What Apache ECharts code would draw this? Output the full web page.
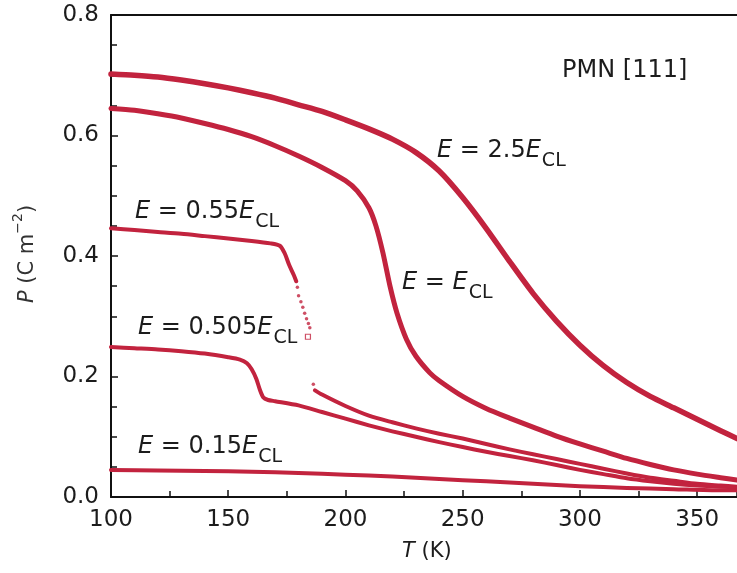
<!DOCTYPE html>
<html>
<head>
<meta charset="utf-8">
<script src="https://cdn.jsdelivr.net/npm/echarts@6/dist/echarts.min.js"></script>
<style>
  html, body { margin: 0; padding: 0; background: #fff; }
  #chart { width: 737px; height: 573px; }
</style>
</head>
<body>
<div id="chart"></div>
<script>
// Polarization P (C m^-2) of PMN [111] versus temperature T (K) for several field strengths.

// E = 2.5 E_CL
const tHigh = [100, 110, 120, 130, 140, 150, 160, 170, 180, 190, 200, 210, 220, 230, 240, 250, 260, 270, 280, 290, 300, 310, 320, 330, 340, 350, 360, 367];
const pHigh = [0.702, 0.700, 0.697, 0.692, 0.686, 0.679, 0.671, 0.662, 0.651, 0.640, 0.626, 0.611, 0.594, 0.572, 0.541, 0.497, 0.446, 0.391, 0.338, 0.292, 0.252, 0.218, 0.190, 0.167, 0.148, 0.129, 0.110, 0.097];

// E = E_CL
const tCl = [100, 110, 120, 130, 140, 150, 160, 170, 180, 190, 200, 205, 210, 213, 216, 219, 222, 226, 230, 236, 240, 250, 260, 270, 280, 290, 300, 310, 320, 330, 340, 350, 360, 367];
const pCl = [0.645, 0.642, 0.636, 0.629, 0.620, 0.610, 0.598, 0.583, 0.566, 0.547, 0.525, 0.508, 0.480, 0.450, 0.405, 0.350, 0.305, 0.262, 0.234, 0.206, 0.193, 0.167, 0.147, 0.131, 0.116, 0.101, 0.088, 0.076, 0.064, 0.054, 0.045, 0.038, 0.032, 0.028];

// E = 0.55 E_CL : low-temperature branch, sparse points through the jump, high-temperature branch
const t055a = [100, 110, 120, 130, 140, 150, 160, 168, 172, 174, 176, 178, 179];
const p055a = [0.446, 0.443, 0.440, 0.437, 0.433, 0.429, 0.425, 0.421, 0.417, 0.405, 0.385, 0.368, 0.358];
const t055dots = [179.5, 180.0, 181.0, 181.8, 182.6, 183.4, 184.2, 184.8, 186.3];
const p055dots = [0.348, 0.334, 0.324, 0.315, 0.305, 0.296, 0.288, 0.281, 0.187];
const t055open = [184.0];
const p055open = [0.266];
const t055b = [187, 190, 200, 210, 220, 230, 240, 250, 260, 270, 280, 290, 300, 310, 320, 330, 340, 350, 360, 367];
const p055b = [0.177, 0.170, 0.151, 0.135, 0.124, 0.114, 0.105, 0.097, 0.088, 0.079, 0.071, 0.063, 0.055, 0.047, 0.039, 0.032, 0.027, 0.022, 0.019, 0.017];

// E = 0.505 E_CL
const t0505 = [100, 110, 120, 130, 140, 150, 155, 158, 160, 162, 163.5, 165, 167, 170, 180, 190, 200, 210, 220, 230, 240, 250, 260, 270, 280, 290, 300, 310, 320, 330, 340, 350, 360, 367];
const p0505 = [0.249, 0.247, 0.245, 0.242, 0.238, 0.232, 0.228, 0.222, 0.212, 0.196, 0.178, 0.165, 0.161, 0.159, 0.152, 0.141, 0.130, 0.119, 0.109, 0.100, 0.091, 0.083, 0.075, 0.068, 0.061, 0.053, 0.045, 0.038, 0.031, 0.026, 0.022, 0.019, 0.017, 0.016];

// E = 0.15 E_CL
const t015 = [100, 120, 140, 160, 180, 200, 220, 240, 260, 280, 300, 320, 340, 360, 367];
const p015 = [0.045, 0.044, 0.043, 0.042, 0.040, 0.037, 0.034, 0.030, 0.026, 0.022, 0.018, 0.015, 0.013, 0.011, 0.011];

// Axis ranges and tick labels
const xRange = [100, 367];
const yRange = [0, 0.8];
const xTickStep = 50;
const yTickStep = 0.2;

const zip = (xs, ys) => xs.map((x, i) => [x, ys[i]]);

const CURVE = '#c2233e';
const FONT = '"DejaVu Sans", "Liberation Sans", sans-serif';
const INK = '#1c1c1c';

function curve(name, xs, ys, width) {
  return {
    name, type: 'line', data: zip(xs, ys),
    showSymbol: false, smooth: 0.25,
    lineStyle: { color: CURVE, width: width, cap: 'round', join: 'round' },
    silent: true, animation: false
  };
}

// Field label with italic E and a lowered "CL" subscript
function fieldLabel(prefix, left, midY) {
  const text = '{i|E}{n| = ' + prefix + '}{i|E}{s|CL}';
  return {
    type: 'text', left: left, top: midY - 12, silent: true,
    style: {
      text: text, fill: INK,
      rich: {
        i: { fontFamily: FONT, fontStyle: 'italic', fontSize: 24, lineHeight: 24, verticalAlign: 'top', fill: INK },
        n: { fontFamily: FONT, fontSize: 24, lineHeight: 24, verticalAlign: 'top', fill: INK },
        s: { fontFamily: FONT, fontSize: 19, lineHeight: 19, verticalAlign: 'top', padding: [13, 0, 0, 1], fill: INK }
      }
    }
  };
}

const chart = echarts.init(document.getElementById('chart'), null, { renderer: 'canvas' });

chart.setOption({
  backgroundColor: '#ffffff',
  animation: false,
  grid: { left: 111, right: 0, top: 15, bottom: 76, containLabel: false },
  xAxis: [{
    type: 'value', min: xRange[0], max: xRange[1], interval: xTickStep,
    axisLine: { show: true, onZero: false, lineStyle: { color: '#111', width: 2 } },
    axisTick: { show: true, inside: true, length: 7, lineStyle: { color: '#111', width: 1.5 } },
    minorTick: { show: true, splitNumber: 2, length: 6, lineStyle: { color: '#111', width: 1.5 } },
    splitLine: { show: false },
    axisLabel: {
      margin: 12, color: INK, fontFamily: FONT, fontSize: 23,
      showMaxLabel: false, formatter: v => String(v)
    }
  }, {
    type: 'value', position: 'top', min: xRange[0], max: xRange[1],
    axisLine: { show: true, onZero: false, lineStyle: { color: '#111', width: 2 } },
    axisTick: { show: false }, axisLabel: { show: false }, splitLine: { show: false }
  }],
  yAxis: {
    type: 'value', min: yRange[0], max: yRange[1], interval: yTickStep,
    axisLine: { show: true, onZero: false, lineStyle: { color: '#111', width: 2 } },
    axisTick: { show: true, inside: true, length: 7, lineStyle: { color: '#111', width: 1.5 } },
    minorTick: { show: true, splitNumber: 4, length: 6, lineStyle: { color: '#111', width: 1.5 } },
    splitLine: { show: false },
    axisLabel: {
      margin: 12, color: INK, fontFamily: FONT, fontSize: 23,
      formatter: v => v.toFixed(1)
    }
  },
  series: [
    curve('E = 2.5 E_CL', tHigh, pHigh, 5.5),
    curve('E = E_CL', tCl, pCl, 5),
    curve('E = 0.55 E_CL (below jump)', t055a, p055a, 4),
    {
      name: 'E = 0.55 E_CL (jump)', type: 'scatter', data: zip(t055dots, p055dots),
      symbol: 'circle', symbolSize: 3.5, itemStyle: { color: CURVE }, silent: true
    },
    {
      name: 'E = 0.55 E_CL (open point)', type: 'scatter', data: zip(t055open, p055open),
      symbol: 'rect', symbolSize: 5, itemStyle: { color: '#fff', borderColor: CURVE, borderWidth: 1.2 }, silent: true
    },
    curve('E = 0.55 E_CL (above jump)', t055b, p055b, 4),
    curve('E = 0.505 E_CL', t0505, p0505, 4),
    curve('E = 0.15 E_CL', t015, p015, 4)
  ],
  graphic: [
    fieldLabel('2.5', 437, 151),
    fieldLabel('', 402, 283),
    fieldLabel('0.55', 135, 212),
    fieldLabel('0.505', 138, 328),
    fieldLabel('0.15', 138, 447),
    {
      type: 'text', left: 562, top: 59, silent: true,
      style: { text: 'PMN [111]', fill: INK, font: '24px ' + FONT }
    },
    {
      // x-axis title
      type: 'text', left: 402, top: 541, silent: true,
      style: {
        text: '{i|T}{n| (K)}', fill: INK,
        rich: {
          i: { fontFamily: FONT, fontStyle: 'italic', fontSize: 21, fill: INK },
          n: { fontFamily: FONT, fontSize: 21, fill: INK }
        }
      }
    },
    {
      // y-axis title, rotated to read upward
      type: 'text', x: 22, y: 254, rotation: Math.PI / 2, silent: true,
      style: {
        text: '{i|P}{n| (C m}{u|−2}{n|)}', fill: INK,
        align: 'center', verticalAlign: 'middle',
        rich: {
          i: { fontFamily: FONT, fontStyle: 'italic', fontSize: 21, lineHeight: 21, verticalAlign: 'top', padding: [6, 0, 0, 0], fill: '#333' },
          n: { fontFamily: FONT, fontSize: 21, lineHeight: 21, verticalAlign: 'top', padding: [6, 0, 0, 0], fill: '#333' },
          u: { fontFamily: FONT, fontSize: 14, lineHeight: 14, verticalAlign: 'top', fill: '#333' }
        }
      }
    }
  ]
});
</script>
</body>
</html>
